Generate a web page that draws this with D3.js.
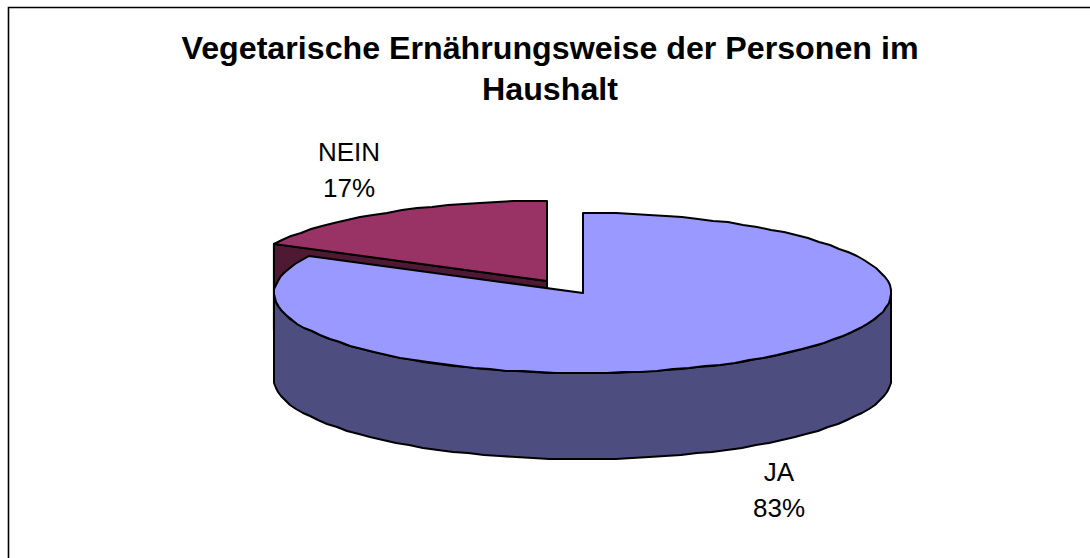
<!DOCTYPE html>
<html><head><meta charset="utf-8">
<script src="https://cdn.jsdelivr.net/npm/d3@7"></script>
<style>html,body{margin:0;padding:0;background:#fff}svg{display:block}text{font-family:"Liberation Sans",Arial,sans-serif;fill:#000}</style>
</head><body><div id="c"></div>
<script>
const categories = ["JA", "NEIN"];
const values = [82.7, 17.3];
const percentLabels = ["83%", "17%"];
const titleLines = ["Vegetarische Ernährungsweise der Personen im", "Haushalt"];
const topColors = ["#9999FF", "#993366"];
const sideColors = ["#4D4D80", "#4D1933"];

const W = 1090, H = 558;
const svg = d3.select("#c").append("svg").attr("width", W).attr("height", H);

// chart frame: only top and left edges fall inside the picture
svg.append("path").attr("d", `M8.5,${H}V7.5H${W}`).attr("fill", "none")
  .attr("stroke", "#000").attr("stroke-width", 1.6);

svg.append("g").selectAll("text").data(titleLines).join("text")
  .attr("x", 550).attr("y", (d, i) => 58.5 + i * 41.5)
  .attr("text-anchor", "middle").attr("font-size", 32.2).attr("font-weight", "bold")
  .text(d => d);

// 3D pie geometry
const rx = 308.5, ry = 80, depth = 86;
const cx = 582.5, cy = 293;     // centre of JA top face
const explode = [[0, 0], [-35.5, -12]];
const pie = d3.pie().sort(null).value(d => d)(values);

const sx = d3.scaleLinear().domain([-1, 1]).range([-rx, rx]);
const sy = d3.scaleLinear().domain([-1, 1]).range([-ry, ry]);
const pt = (a, i, dz = 0) => [
  cx + explode[i][0] + sx(Math.sin(a)),
  cy + explode[i][1] + sy(-Math.cos(a)) + dz
];
const arcPts = (a0, a1, i, dz = 0) => {
  const n = Math.max(2, Math.ceil(Math.abs(a1 - a0) / 0.055));
  return d3.range(n + 1).map(k => {
    const p = pt(a0 + (a1 - a0) * k / n, i, dz);
    return [Math.round(p[0]), Math.round(p[1])];
  });
};
const line = d3.line();
const draw = (pts, fill) => svg.append("path").attr("d", line(pts) + "Z")
  .attr("fill", fill).attr("stroke", "#000").attr("stroke-width", 2).attr("stroke-linejoin", "round");

const ja = pie[0], nein = pie[1];
const centre = i => [Math.round(cx + explode[i][0]), cy + explode[i][1]];

// NEIN: radial wall, then top face
const c1 = centre(1), e1 = pt(nein.startAngle, 1);
draw([e1, c1, [c1[0], c1[1] + depth], [e1[0], e1[1] + depth]], sideColors[1]);
draw([c1, ...arcPts(nein.startAngle, nein.endAngle, 1)], topColors[1]);

// JA: outer wall from right extreme to left extreme, then top face
const quarter = Math.PI / 2;
const wallTop = arcPts(quarter, 3 * quarter, 0);
const wallBot = arcPts(3 * quarter, quarter, 0, depth);
draw([...wallTop, ...wallBot], sideColors[0]);
draw([centre(0), ...arcPts(ja.startAngle, ja.endAngle, 0)], topColors[0]);

// data labels
const labelPos = [[779, 481], [349, 161]];
categories.forEach((c, i) => {
  const t = svg.append("text").attr("text-anchor", "middle").attr("font-size", 26);
  t.append("tspan").attr("x", labelPos[i][0]).attr("y", labelPos[i][1]).text(c);
  t.append("tspan").attr("x", labelPos[i][0]).attr("y", labelPos[i][1] + 36).text(percentLabels[i]);
});
</script></body></html>
